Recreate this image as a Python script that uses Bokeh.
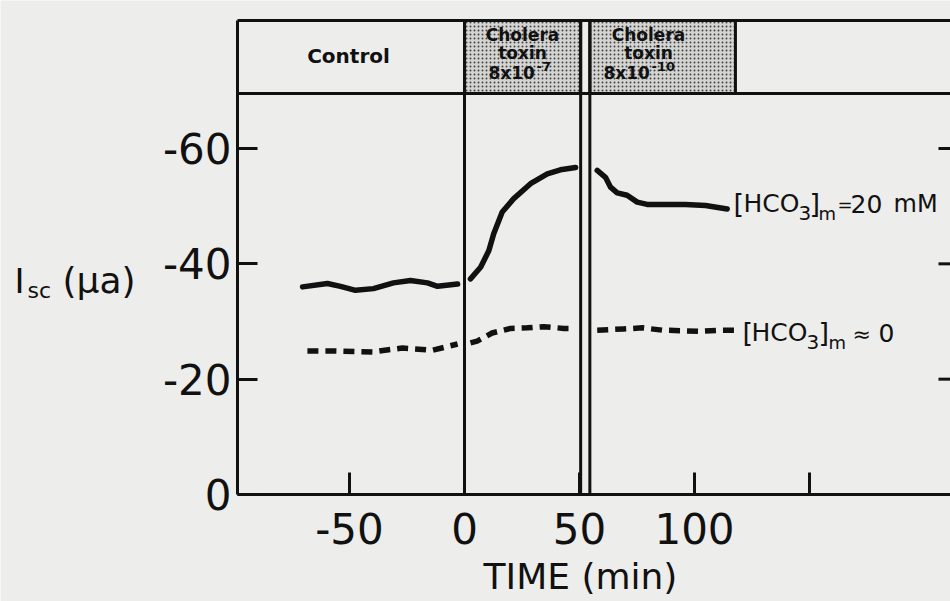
from bokeh.plotting import figure
from bokeh.models import Range1d, FixedTicker, Label, LinearAxis
from bokeh.embed import file_html
from bokeh.resources import INLINE

# ---------------- data ----------------
# [HCO3]m = 20 mM (solid), three recorded segments
solid_ctrl_t = [-70.4, -59.6, -53.9, -47.4, -39.6, -30.9, -23.5, -16.1, -11.7, -3.0]
solid_ctrl_v = [-36.0, -36.6, -36.1, -35.4, -35.7, -36.7, -37.1, -36.7, -36.1, -36.5]
solid_tox1_t = [2.6, 7.0, 10.6, 12.7, 16.4, 21.4, 28.7, 36.0, 41.7, 48.3]
solid_tox1_v = [-37.4, -39.4, -42.3, -45.2, -49.0, -51.3, -53.9, -55.6, -56.3, -56.7]
solid_tox2_t = [57.7, 61.3, 63.5, 66.4, 70.7, 75.1, 79.4, 88.8, 96.1, 104.8, 114.2]
solid_tox2_v = [-56.2, -55.0, -53.3, -52.3, -51.9, -50.7, -50.3, -50.3, -50.3, -50.1, -49.5]

# [HCO3]m ~ 0 (dashed)
dash_ctrl_t = [-68.3, -58.0, -48.0, -40.0, -33.0, -27.0, -20.0, -14.0, -9.0, -3.0]
dash_ctrl_v = [-24.9, -24.9, -24.8, -24.7, -25.1, -25.4, -25.2, -25.0, -25.5, -26.1]
dash_tox1_t = [2.6, 5.5, 12.0, 20.0, 27.3, 34.5, 43.2, 47.0]
dash_tox1_v = [-26.3, -26.6, -28.0, -28.8, -28.9, -29.1, -28.8, -28.8]
dash_tox2_t = [57.7, 69.1, 77.3, 86.0, 94.7, 102.4, 111.3, 117.8]
dash_tox2_v = [-28.5, -28.7, -28.9, -28.5, -28.4, -28.3, -28.5, -28.5]

# treatment periods (header band)
control_name = "Control"
toxin_lines = ["Cholera", "toxin", "8x10"]
toxin_exponents = ["-7", "-10"]
toxin_starts = [0.0, 54.5]
toxin_ends = [50.5, 117.8]
full_lines = [0.0, 50.5, 54.5]

x_ticks = [-50, 0, 50, 100, 150]
x_tick_labels = ["-50", "0", "50", "100", ""]
y_ticks = [0, -20, -40, -60]
y_tick_labels = ["0", "-20", "-40", "-60"]

# ---------------- layout ----------------
BG = "#ededeb"
INK = "#111111"
FONT = "DejaVu Sans"
W, H = 950, 601
PXU = 2.3            # px per minute
PYU = 346.0 / 60.0   # px per microamp
ORIGIN_X, ORIGIN_Y = 464, 494   # pixel position of t=0, I=0
X0 = -ORIGIN_X / PXU
X1 = X0 + W / PXU
Y_TOP = -ORIGIN_Y / PYU
Y_BOT = (H - ORIGIN_Y) / PYU


def tx(px):
    return X0 + px / PXU


def vy(py):
    return Y_TOP + py / PYU


p = figure(width=W, height=H, x_range=Range1d(X0, X1), y_range=Range1d(Y_BOT, Y_TOP),
           output_backend="svg", toolbar_location=None,
           x_axis_location=None, y_axis_location=None,
           min_border=0, min_border_left=0, min_border_right=0,
           min_border_top=0, min_border_bottom=0,
           background_fill_color=BG, border_fill_color=BG, outline_line_color=None)
p.grid.visible = False

AX_LEFT = tx(237)
HDR_TOP, HDR_BOT = vy(20), vy(93)

xaxis = LinearAxis(fixed_location=0, bounds=(AX_LEFT, X1))
yaxis = LinearAxis(fixed_location=AX_LEFT, bounds=(HDR_TOP, 0))
p.add_layout(xaxis, "below")
p.add_layout(yaxis, "left")

for ax in (xaxis, yaxis):
    ax.axis_line_width = 3
    ax.axis_line_color = INK
    ax.major_tick_line_width = 3
    ax.major_tick_line_color = INK
    ax.major_tick_out = 0
    ax.minor_tick_line_color = None
    ax.major_label_text_font = FONT
    ax.major_label_text_font_size = "42px"
    ax.major_label_text_color = INK

xaxis.ticker = FixedTicker(ticks=x_ticks)
xaxis.major_label_overrides = dict(zip(x_ticks, x_tick_labels))
xaxis.major_tick_in = 22
xaxis.major_label_standoff = 18

yaxis.ticker = FixedTicker(ticks=y_ticks)
yaxis.major_label_overrides = dict(zip(y_ticks, y_tick_labels))
yaxis.major_tick_in = 20
yaxis.major_label_standoff = 6

# header band
p.quad(left=toxin_starts, right=toxin_ends, top=HDR_TOP, bottom=HDR_BOT,
       fill_color="#d4d4d2", line_color=INK, line_width=3,
       hatch_pattern="dot", hatch_scale=4, hatch_weight=1, hatch_color="#444444")
p.segment(x0=[AX_LEFT, AX_LEFT], x1=[X1, X1], y0=[HDR_TOP, HDR_BOT], y1=[HDR_TOP, HDR_BOT],
          line_color=INK, line_width=3)
p.segment(x0=full_lines, x1=full_lines, y0=[0] * len(full_lines), y1=[HDR_TOP] * len(full_lines),
          line_color=INK, line_width=3)

# right-hand inner ticks
p.segment(x0=[X1 - 12 / PXU] * 3, x1=[X1] * 3, y0=y_ticks[1:], y1=y_ticks[1:],
          line_color=INK, line_width=3)

# data curves
p.multi_line(xs=[solid_ctrl_t, solid_tox1_t, solid_tox2_t],
             ys=[solid_ctrl_v, solid_tox1_v, solid_tox2_v],
             line_color=INK, line_width=5.5, line_cap="round", line_join="round")
p.multi_line(xs=[dash_ctrl_t, dash_tox1_t, dash_tox2_t],
             ys=[dash_ctrl_v, dash_tox1_v, dash_tox2_v],
             line_color=INK, line_width=5.5, line_dash="11 7", line_join="round")


def lab(text, px, py, size, style="normal", align="left"):
    p.add_layout(Label(x=tx(px), y=vy(py), text=text, text_font=FONT,
                       text_font_size=f"{size}px", text_font_style=style,
                       text_color=INK, text_align=align, text_baseline="middle"))


# header texts
lab(control_name, 348, 55, 20, "bold", "center")
for cx, left, exp in zip([522, 648], [488, 603], toxin_exponents):
    lab(toxin_lines[0], cx, 34, 17, "bold", "center")
    lab(toxin_lines[1], cx, 52, 17, "bold", "center")
    lab(toxin_lines[2], left, 72, 17, "bold", "left")
    lab(exp, left + 48, 66, 13, "bold", "left")

# series labels
lab("[", 733, 203, 27)
lab("HCO", 743, 203, 25)
lab("3", 798, 212, 20)
lab("]", 809, 203, 27)
lab("m", 818, 213, 18)
lab("=", 837, 204, 18)
lab("20", 850, 203, 25)
lab("mM", 893, 203, 24)

lab("[", 742, 332, 27)
lab("HCO", 751, 332, 25)
lab("3", 806, 341, 20)
lab("]", 818, 332, 27)
lab("m", 828, 342, 18)
lab("≈", 852, 334, 22)
lab("0", 878, 332, 25)

# axis titles
lab("I", 14, 280, 34)
lab("sc", 27, 290, 22)
lab("(μa)", 62, 280, 36)
lab("TIME (min)", 580, 576, 36, "normal", "center")

open("out.html", "w").write(file_html(p, INLINE))
